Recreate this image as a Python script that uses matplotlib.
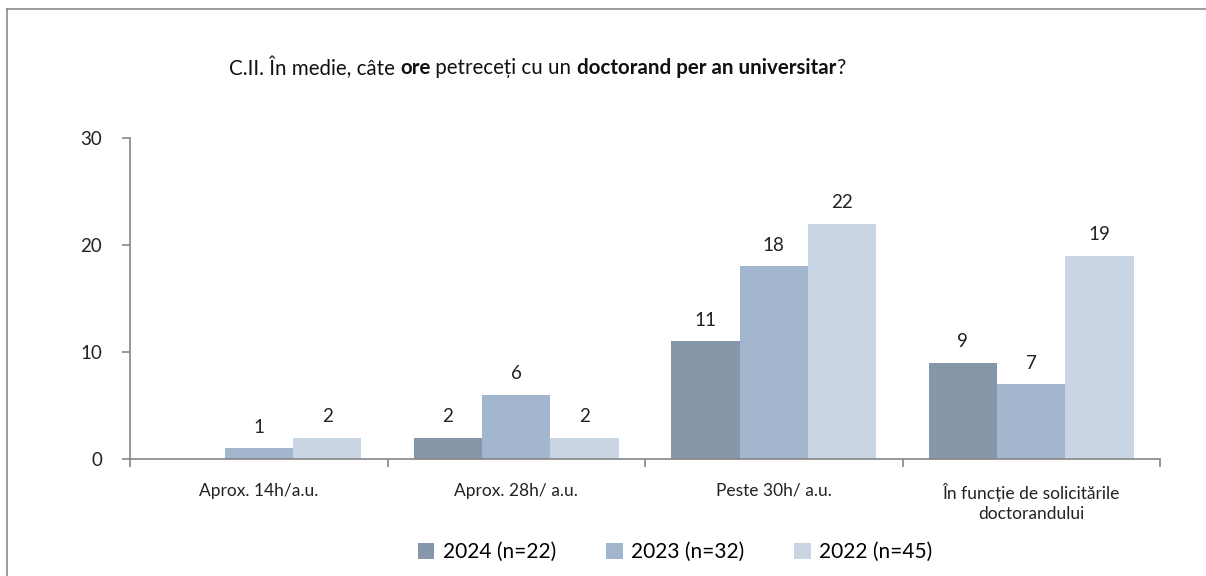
import matplotlib
matplotlib.use("Agg")
import matplotlib.pyplot as plt
from matplotlib.lines import Line2D
import numpy as np

categories = ["Aprox. 14h/a.u.", "Aprox. 28h/ a.u.", "Peste 30h/ a.u.",
              "În funcție de solicitările\ndoctorandului"]
series_names = ["2024 (n=22)", "2023 (n=32)", "2022 (n=45)"]
values_2024 = [0, 2, 11, 9]
values_2023 = [1, 6, 18, 7]
values_2022 = [2, 2, 22, 19]
yticks = [0, 10, 20, 30]
title_parts = [("C.II. În medie, câte ", "normal"), ("ore", "bold"),
               (" petreceți cu un ", "normal"), ("doctorand per an universitar", "bold"),
               ("?", "normal")]

colors = ["#8597A9", "#A2B7CE", "#C9D5E2"]
axis_color = "#868686"

plt.rcParams['font.family'] = ['Lato', 'DejaVu Sans']

fig = plt.figure(figsize=(12.06, 5.76), dpi=100)
ax = fig.add_axes([130/1206, 1-459/576, (1160-130)/1206, (459-138)/576])

x = np.arange(len(categories))
w = 0.266
all_series = [values_2024, values_2023, values_2022]
for i, (vals, name, c) in enumerate(zip(all_series, series_names, colors)):
    pos = x + (i - 1) * w
    ax.bar(pos, vals, width=w, color=c, label=name, linewidth=0)
    for xp, v in zip(pos, vals):
        if v > 0:
            ax.annotate(str(v), (xp, v), xytext=(0, 9), textcoords="offset points",
                        ha="center", va="bottom", fontsize=13.5, color="#222222")

ax.set_xlim(-0.5, len(categories) - 0.5)
ax.set_ylim(0, 30)
ax.set_yticks(yticks)
ax.set_yticklabels([str(t) for t in yticks], fontsize=13.5, color="#222222")
ax.set_xticks(x)
ax.set_xticklabels(categories, fontsize=12.5, color="#222222", linespacing=1.35)
ax.set_xticks(np.arange(len(categories) + 1) - 0.5, minor=True)
ax.tick_params(axis='x', which='major', length=0, pad=17)
ax.tick_params(axis='x', which='minor', length=6, color=axis_color, width=1.2)
ax.tick_params(axis='y', length=6, color=axis_color, width=1.2, pad=14)
for s in ["top", "right"]:
    ax.spines[s].set_visible(False)
for s in ["left", "bottom"]:
    ax.spines[s].set_color(axis_color)
    ax.spines[s].set_linewidth(1.2)

# title built from normal / bold segments
renderer = fig.canvas.get_renderer()
texts = []
for s, wgt in title_parts:
    t = fig.text(0, 1-68/576, s, ha="left", va="center", fontsize=14.8,
                 fontweight=wgt, color="#111111")
    texts.append(t)
widths = [t.get_window_extent(renderer).width for t in texts]
total = sum(widths)
start = 537 - total / 2
for t, wd in zip(texts, widths):
    t.set_x(start / 1206)
    start += wd

handles, labels = ax.get_legend_handles_labels()
fig.legend(handles, labels, loc="center", bbox_to_anchor=(675/1206, 1-552/576), ncol=3,
           frameon=False, fontsize=15, handlelength=0.8, handleheight=0.8,
           handletextpad=0.4, columnspacing=2.4)

# figure border (top and left visible)
fig.add_artist(Line2D([7/1206, 7/1206], [0, 1-9/576], transform=fig.transFigure, color="#8a8a8a", lw=1.2))
fig.add_artist(Line2D([7/1206, 1], [1-9/576, 1-9/576], transform=fig.transFigure, color="#8a8a8a", lw=1.2))

fig.savefig("out.png", dpi=100)
